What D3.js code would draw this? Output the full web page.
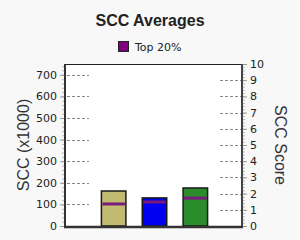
<!DOCTYPE html>
<html>
<head>
<meta charset="utf-8">
<script src="https://cdn.jsdelivr.net/npm/d3@7"></script>
<style>
  body { margin: 0; background: #f8f8f8; }
  svg { display: block; font-family: "Liberation Sans", Arial, sans-serif; }
  .title { font-size: 16px; font-weight: bold; fill: #222; text-anchor: middle; }
  .legend-text { font-family: "DejaVu Sans", Verdana, sans-serif; font-size: 11px; fill: #222; }
  .axis-title { font-size: 16px; fill: #333; text-anchor: middle; }
  .tick-label { font-family: "DejaVu Sans", Verdana, sans-serif; font-size: 11px; fill: #222; }
  .grid { stroke: #888; stroke-width: 1; stroke-dasharray: 3,2; }
</style>
</head>
<body>
<div class="chart"></div>
<script>
const categories = ["Herd", "Peer Group", "All Herds"]
const avgValues = [162, 130, 176]
const top20Values = [102, 111, 129]
const barColors = ["#c1ba71", "#0000f2", "#2a8c2a"]
const leftTicks = [0, 100, 200, 300, 400, 500, 600, 700]
const rightTicks = [0, 1, 2, 3, 4, 5, 6, 7, 8, 9, 10]

const $chart = d3.select('.chart')

function setupChart(){
    var width = 300
    var height = 240
    var left = 65, right = 242, top = 64, bottom = 226

    var svg = $chart.append("svg")
        .attr("width", width)
        .attr("height", height)

    svg.append("rect")
        .attr("x", left)
        .attr("y", top)
        .attr("width", right - left)
        .attr("height", bottom - top)
        .style("fill", "#fff")

    svg.append("text")
        .attr("class", "title")
        .attr("x", 150)
        .attr("y", 26)
        .text("SCC Averages")

    // legend
    svg.append("rect")
        .attr("x", 118.5)
        .attr("y", 41.5)
        .attr("width", 10)
        .attr("height", 10)
        .style("fill", "#800080")
        .style("stroke", "#222")
    svg.append("text")
        .attr("class", "legend-text")
        .attr("x", 135)
        .attr("y", 51)
        .text("Top 20%")

    var xScale = d3.scaleBand()
        .domain(categories)
        .range([81, 228])
        .paddingInner(0.4)
        .paddingOuter(0.5)

    var yLeft = d3.scaleLinear()
        .domain([0, 750])
        .range([bottom, top])

    var yRight = d3.scaleLinear()
        .domain([0, 10])
        .range([bottom, top])

    // dashed stubs near each axis
    svg.selectAll(".grid-left")
        .data(leftTicks.slice(1))
        .enter().append("line")
        .attr("class", "grid")
        .attr("x1", left + 2).attr("x2", left + 24)
        .attr("y1", d => Math.round(yLeft(d)) + 0.5)
        .attr("y2", d => Math.round(yLeft(d)) + 0.5)

    svg.selectAll(".grid-right")
        .data(rightTicks.slice(1, -1))
        .enter().append("line")
        .attr("class", "grid")
        .attr("x1", right - 22).attr("x2", right - 1)
        .attr("y1", d => Math.round(yRight(d)) + 0.5)
        .attr("y2", d => Math.round(yRight(d)) + 0.5)

    // bars
    svg.selectAll(".bar")
        .data(avgValues)
        .enter().append("rect")
        .attr("x", (d, i) => xScale(categories[i]))
        .attr("y", d => yLeft(d))
        .attr("width", xScale.bandwidth())
        .attr("height", d => bottom - yLeft(d))
        .style("fill", (d, i) => barColors[i])
        .style("stroke", "#1a1a1a")
        .style("stroke-width", 1.5)

    svg.selectAll(".top20")
        .data(top20Values)
        .enter().append("line")
        .attr("x1", (d, i) => xScale(categories[i]) + 1)
        .attr("x2", (d, i) => xScale(categories[i]) + xScale.bandwidth() - 1)
        .attr("y1", d => yLeft(d))
        .attr("y2", d => yLeft(d))
        .style("stroke", "#7a1a7a")
        .style("stroke-width", 3)

    // minor ticks
    var leftMinor = svg.append("g")
        .attr("transform", "translate(" + left + ",0)")
        .call(d3.axisLeft(yLeft).tickValues(d3.range(0, 751, 20)).tickSize(3).tickFormat(""))
    leftMinor.select(".domain").remove()
    leftMinor.selectAll("line").style("stroke", "#bbb")

    var rightMinor = svg.append("g")
        .attr("transform", "translate(" + right + ",0)")
        .call(d3.axisRight(yRight).tickValues(d3.range(0, 10.01, 0.2)).tickSize(3).tickFormat(""))
    rightMinor.select(".domain").remove()
    rightMinor.selectAll("line").style("stroke", "#bbb")

    // major axes
    var yAxisL = svg.append("g")
        .attr("transform", "translate(" + left + ",0)")
        .call(d3.axisLeft(yLeft).tickValues(leftTicks).tickSize(5).tickPadding(3))
    yAxisL.select(".domain").remove()
    yAxisL.selectAll("line").style("stroke", "#999")
    yAxisL.selectAll("text").attr("class", "tick-label").attr("font-family", null).attr("font-size", null)

    var yAxisR = svg.append("g")
        .attr("transform", "translate(" + right + ",0)")
        .call(d3.axisRight(yRight).tickValues(rightTicks).tickSize(5).tickPadding(3))
    yAxisR.select(".domain").remove()
    yAxisR.selectAll("line").style("stroke", "#999")
    yAxisR.selectAll("text").attr("class", "tick-label").attr("font-family", null).attr("font-size", null)

    // frame
    svg.append("line")
        .attr("x1", left).attr("x2", right)
        .attr("y1", top + 0.5).attr("y2", top + 0.5)
        .style("stroke", "#222")
    svg.append("line")
        .attr("x1", left).attr("x2", left)
        .attr("y1", top).attr("y2", bottom + 1)
        .style("stroke", "#333").style("stroke-width", 2)
    svg.append("line")
        .attr("x1", right).attr("x2", right)
        .attr("y1", top).attr("y2", bottom + 1)
        .style("stroke", "#444").style("stroke-width", 2)
    svg.append("line")
        .attr("x1", left - 1).attr("x2", right + 1)
        .attr("y1", bottom + 1).attr("y2", bottom + 1)
        .style("stroke", "#333").style("stroke-width", 2.5)

    svg.append("text")
        .attr("class", "axis-title")
        .attr("transform", "translate(23," + (top + bottom) / 2 + ") rotate(-90)")
        .attr("dy", "0.35em")
        .text("SCC (x1000)")

    svg.append("text")
        .attr("class", "axis-title")
        .attr("transform", "translate(281," + (top + bottom) / 2 + ") rotate(90)")
        .attr("dy", "0.35em")
        .text("SCC Score")
}

setupChart()
</script>
</body>
</html>
